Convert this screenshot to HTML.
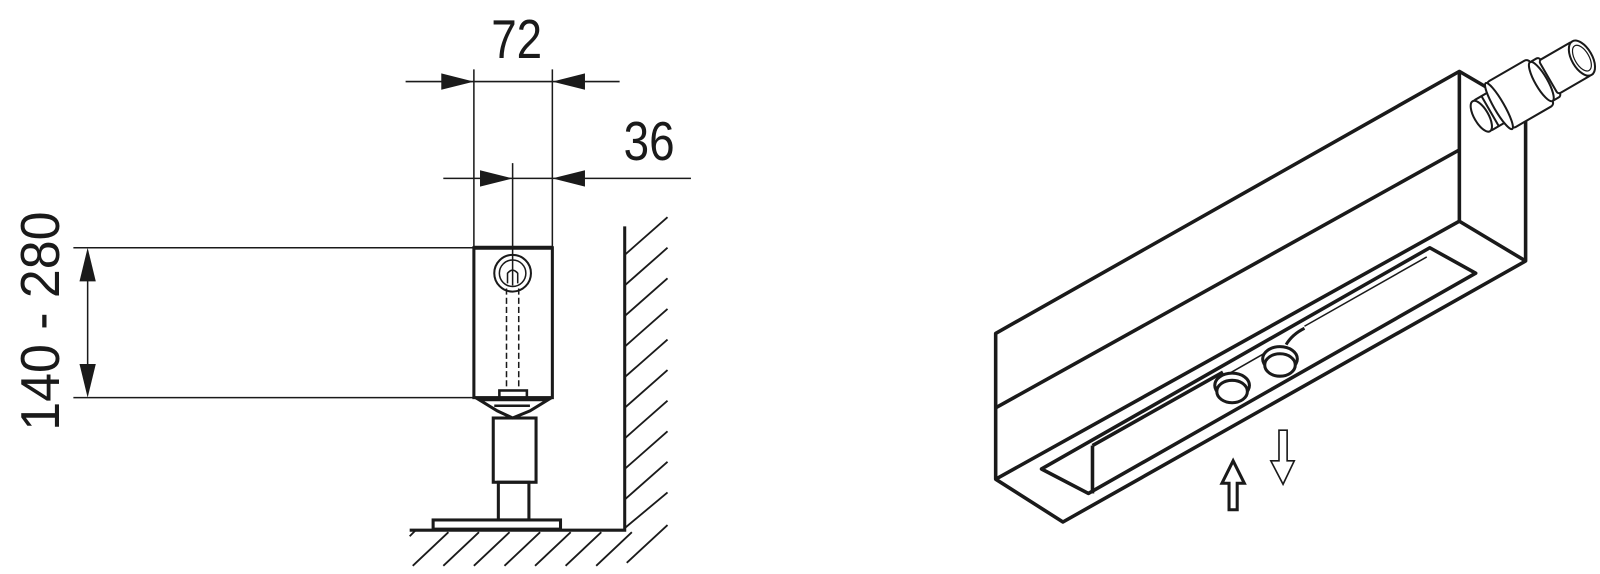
<!DOCTYPE html>
<html><head><meta charset="utf-8"><style>
html,body{margin:0;padding:0;background:#fff;width:1600px;height:574px;overflow:hidden}
svg{display:block}
text{font-family:"Liberation Sans",sans-serif;fill:#1a1a1a}
</style></head><body>
<svg width="1600" height="574" viewBox="0 0 1570 563" preserveAspectRatio="none" xmlns="http://www.w3.org/2000/svg">
<g stroke="#1a1a1a" fill="none" stroke-width="1.5">
<line x1="465" y1="68" x2="465" y2="243"/>
<line x1="542" y1="68" x2="542" y2="243"/>
<line x1="398" y1="80" x2="608" y2="80"/>
<line x1="435" y1="175" x2="678" y2="175"/>
<line x1="503" y1="160" x2="503" y2="280"/>
<line x1="72" y1="243" x2="465" y2="243"/>
<line x1="72" y1="390" x2="465" y2="390"/>
<line x1="86" y1="255" x2="86" y2="378"/>
</g>
<g fill="#1a1a1a">
<polygon points="465,80 433,72 433,88"/>
<polygon points="542,80 574,72 574,88"/>
<polygon points="503,175 471,167 471,183"/>
<polygon points="542,175 574,167 574,183"/>
<polygon points="86,243 78,276 94,276"/>
<polygon points="86,390 78,357 94,357"/>
</g>
<text x="507" y="57" font-size="54" text-anchor="middle" textLength="50" lengthAdjust="spacingAndGlyphs">72</text>
<text x="637" y="157" font-size="54" text-anchor="middle" textLength="50" lengthAdjust="spacingAndGlyphs">36</text>
<text transform="translate(58,315) rotate(-90)" font-size="54" text-anchor="middle" textLength="215" lengthAdjust="spacingAndGlyphs">140 - 280</text>

<g stroke="#1a1a1a" fill="none" stroke-width="3">
<rect x="465" y="243" width="77" height="147"/>
<line x1="465" y1="243" x2="542" y2="243" stroke-width="4"/>
<circle cx="503" cy="268" r="18" stroke-width="2"/>
<circle cx="503" cy="268" r="13" stroke-width="1.5"/>
<path d="M498 278 v-10 q5-6 10 0 v10" stroke-width="1.5"/>
<path d="M497 283 V382 M509 283 V382" stroke-width="1.5" stroke-dasharray="6,3"/>
<path d="M470 392 L538 392 L520 403 L503 410 L488 403 Z"/>
<rect x="490" y="383" width="27" height="8" stroke-width="2.5"/>
<line x1="485" y1="398" x2="520" y2="398" stroke-width="2.5"/>
<rect x="484" y="410" width="42" height="63"/>
<rect x="489" y="473" width="30" height="37"/>
<rect x="425" y="510" width="125" height="9"/>
<path d="M402 520 H613 V222"/>
</g>
<g stroke="#1a1a1a" stroke-width="1.8">
<line x1="613" y1="250" x2="655" y2="213"/>
<line x1="613" y1="280" x2="655" y2="243"/>
<line x1="613" y1="310" x2="655" y2="273"/>
<line x1="613" y1="340" x2="655" y2="303"/>
<line x1="613" y1="370" x2="655" y2="333"/>
<line x1="613" y1="400" x2="655" y2="363"/>
<line x1="613" y1="430" x2="655" y2="393"/>
<line x1="613" y1="460" x2="655" y2="423"/>
<line x1="613" y1="490" x2="655" y2="453"/>
<line x1="613" y1="518" x2="655" y2="483"/>
<line x1="615" y1="552" x2="655" y2="515"/>
<line x1="405" y1="555" x2="440" y2="522"/>
<line x1="435" y1="555" x2="470" y2="522"/>
<line x1="465" y1="555" x2="500" y2="522"/>
<line x1="495" y1="555" x2="530" y2="522"/>
<line x1="525" y1="555" x2="560" y2="522"/>
<line x1="555" y1="555" x2="590" y2="522"/>
<line x1="585" y1="555" x2="620" y2="522"/>
<line x1="402" y1="526" x2="408" y2="520"/>
</g>

<g stroke="#1a1a1a" fill="none" stroke-width="3.5" stroke-linejoin="round">
<path d="M977 327 L1432 70 L1497 108 L1497 256 L1043 512 L977 470 Z"/>
<line x1="1432" y1="70" x2="1432" y2="217"/>
<line x1="977" y1="400" x2="1432" y2="147"/>
<line x1="1432" y1="217" x2="1497" y2="256"/>
<line x1="977" y1="470" x2="1432" y2="217"/>
<path d="M1022 460 L1403 243 L1448 268 L1068 484 Z"/>
<line x1="1072" y1="437" x2="1072" y2="484"/>
<line x1="1072" y1="437" x2="1200" y2="365"/>
<line x1="1280" y1="320" x2="1400" y2="252" stroke-width="1.5"/>
</g>
<g stroke="#1a1a1a" stroke-width="3" fill="#fff">
<path d="M1262 338 q6-10 18-16" fill="none"/>
<line x1="1205" y1="367" x2="1247" y2="343" stroke-width="1.5"/>
<ellipse cx="1256" cy="352" rx="17" ry="12"/>
<ellipse cx="1256" cy="358" rx="15" ry="11"/>
<ellipse cx="1209" cy="378" rx="17" ry="12"/>
<ellipse cx="1209" cy="384" rx="15" ry="11"/>
</g>
<g stroke="#1a1a1a" fill="none">
<path d="M1199 474 L1210 452 L1221 474 L1214 474 L1214 500 L1206 500 L1206 474 Z" stroke-width="3"/>
<path d="M1255 422 L1263 422 L1263 452 L1270 452 L1259 475 L1247 452 L1255 452 Z" stroke-width="1.6"/>
</g>
<g transform="translate(1457,112) rotate(-30)" stroke="#1a1a1a" stroke-width="2" fill="#fff">
<rect x="-4" y="-17" width="22" height="34" rx="3"/>
<ellipse cx="-4" cy="0" rx="7" ry="17"/>
<line x1="6" y1="-17" x2="6" y2="17"/>
<rect x="16" y="-26" width="48" height="52" rx="4"/>
<ellipse cx="16" cy="0" rx="5" ry="26"/>
<rect x="62" y="-22" width="12" height="44" rx="3"/>
<ellipse cx="64" cy="0" rx="6" ry="22"/>
<rect x="72" y="-19" width="38" height="38" rx="3"/>
<ellipse cx="110" cy="0" rx="10" ry="19"/>
<ellipse cx="110" cy="0" rx="7" ry="14" stroke-width="1.2"/>
</g>
</svg>
</body></html>
